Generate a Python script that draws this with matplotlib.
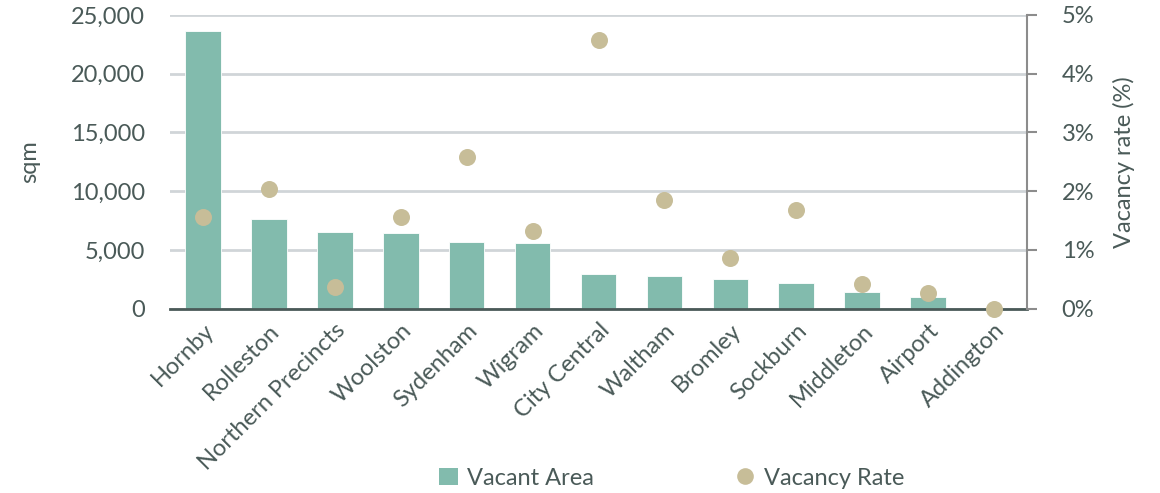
import matplotlib
matplotlib.use("Agg")
import matplotlib.pyplot as plt
from matplotlib.ticker import FuncFormatter
from matplotlib.lines import Line2D
from matplotlib.patches import Patch

categories = ["Hornby", "Rolleston", "Northern Precincts", "Woolston", "Sydenham",
              "Wigram", "City Central", "Waltham", "Bromley", "Sockburn",
              "Middleton", "Airport", "Addington"]
vacant_area = [23630, 7660, 6550, 6440, 5700, 5620, 2930, 2780, 2500, 2160, 1400, 970, 0]
vacancy_rate = [1.56, 2.04, 0.375, 1.56, 2.59, 1.32, 4.57, 1.85, 0.86, 1.68, 0.42, 0.27, 0.0]
left_ticks = [0, 5000, 10000, 15000, 20000, 25000]
right_ticks = [0, 1, 2, 3, 4, 5]

bar_color = "#82bbad"
dot_color = "#c7bd98"
text_color = "#4a5a58"
grid_color = "#d0d5d8"
fs = 17

plt.rcParams['font.family'] = ['Lato', 'DejaVu Sans']

fig = plt.figure(figsize=(11.6, 4.93), dpi=100)
ax = fig.add_axes([0.1466, 0.3738, 0.7387, 0.5958])
x = list(range(len(categories)))
ax.bar(x, vacant_area, width=0.54, color=bar_color, edgecolor="white", linewidth=0.6, zorder=2)
ax.set_xlim(-0.5, len(categories) - 0.5)
ax.set_ylim(0, 25000)
ax.set_yticks(left_ticks)
ax.yaxis.set_major_formatter(FuncFormatter(lambda v, p: f"{int(v):,}"))
ax.grid(axis="y", color=grid_color, linewidth=2, zorder=0)
ax.set_axisbelow(True)
for s in ["top", "right", "left"]:
    ax.spines[s].set_visible(False)
ax.spines["bottom"].set_color(text_color)
ax.spines["bottom"].set_linewidth(2)
ax.spines["bottom"].set_zorder(3)
ax.tick_params(axis="y", length=0, pad=18, labelsize=fs, labelcolor=text_color)
ax.tick_params(axis="x", length=0, pad=8, labelsize=fs, labelcolor=text_color)
ax.set_xticks(x)
ax.set_xticklabels(categories, rotation=45, ha="right", rotation_mode="anchor")
ax.set_ylabel("sqm", fontsize=fs, color=text_color, labelpad=22)

ax2 = ax.twinx()
ax2.set_ylim(0, 5)
ax2.set_yticks(right_ticks)
ax2.yaxis.set_major_formatter(FuncFormatter(lambda v, p: f"{int(v)}%"))
ax2.scatter(x, vacancy_rate, s=150, color=dot_color, zorder=4, clip_on=False, linewidths=0)
for s in ["top", "left", "bottom"]:
    ax2.spines[s].set_visible(False)
ax2.spines["right"].set_color("#8c8c8c")
ax2.spines["right"].set_linewidth(1.5)
ax2.tick_params(axis="y", length=7, width=1.5, color="#8c8c8c", pad=18, labelsize=fs, labelcolor=text_color)
ax2.set_ylabel("Vacancy rate (%)", fontsize=fs, color=text_color, labelpad=13)

handles = [Patch(facecolor=bar_color, edgecolor="none", label="Vacant Area"),
           Line2D([], [], marker="o", linestyle="none", markersize=12, markerfacecolor=dot_color,
                  markeredgewidth=0, label="Vacancy Rate")]
leg = fig.legend(handles=handles, loc="center", bbox_to_anchor=(0.579, 0.03), ncol=2, frameon=False,
                 fontsize=fs, columnspacing=6.0, handlelength=0.8, handletextpad=0.4)
for t in leg.get_texts():
    t.set_color(text_color)

fig.savefig("out.png", dpi=100)
